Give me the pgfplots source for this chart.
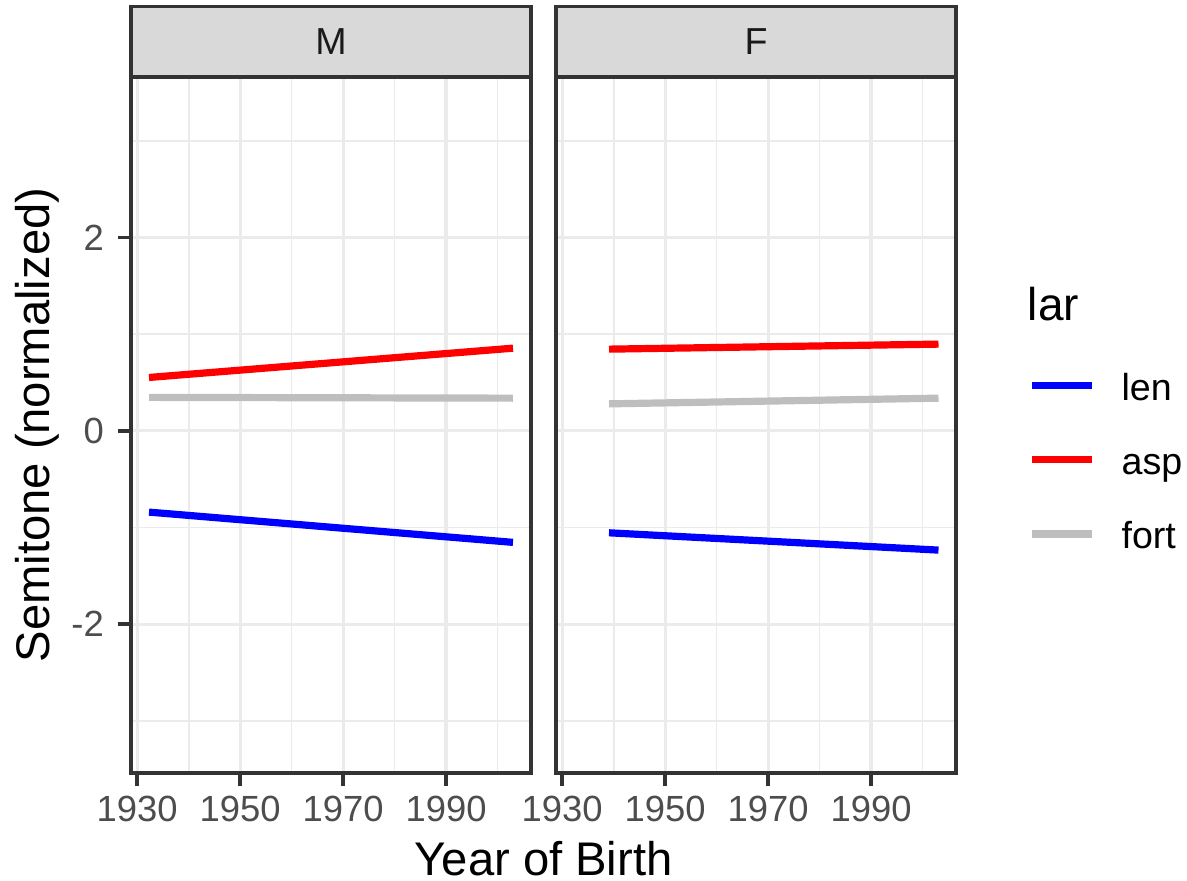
\documentclass[border=0pt]{standalone}
\usepackage{fontspec}
\setmainfont{Liberation Sans}
\usepackage{pgfplots}
\pgfplotsset{compat=1.18}
\definecolor{gridc}{HTML}{EBEBEB}
\definecolor{framec}{HTML}{333333}
\definecolor{stripc}{HTML}{D9D9D9}
\definecolor{tickc}{HTML}{4D4D4D}
\definecolor{fortc}{HTML}{BEBEBE}
\pgfplotsset{
  panel/.style={
    scale only axis, width=100pt, height=174pt,
    xmin=1928.8, xmax=2006.5, ymin=-3.54, ymax=3.66,
    xtick={1930,1950,1970,1990}, xticklabels={1930,1950,1970,1990},
    minor xtick={1940,1960,1980,2000},
    ytick={-2,0,2}, yticklabels={-2,0,2},
    minor ytick={-3,-1,1,3},
    grid=both,
    major grid style={gridc, line width=0.8pt},
    minor grid style={gridc, line width=0.42pt},
    axis line style={framec, line width=0.9pt},
    tick align=outside, tick pos=left,
    major tick length=3.25pt, minor tick length=0pt,
    tick style={framec, line width=0.9pt},
    ticklabel style={font=\fontsize{9.1}{11}\selectfont, text=tickc},
    xticklabel style={yshift=1pt},
  },
  dline/.style={line width=1.8pt, line cap=butt},
}
\begin{document}
\begin{tikzpicture}
\useasboundingbox (0,0) rectangle (296.75pt,220pt);
% strips
\fill[stripc] (32.75pt,200.75pt) rectangle (132.75pt,218.4pt);
\draw[framec, line width=0.9pt] (32.75pt,200.75pt) rectangle (132.75pt,218.4pt);
\fill[stripc] (139pt,200.75pt) rectangle (239pt,218.4pt);
\draw[framec, line width=0.9pt] (139pt,200.75pt) rectangle (239pt,218.4pt);
\node[anchor=base, inner sep=0pt, text={rgb,255:red,26;green,26;blue,26}, font=\fontsize{9.4}{11}\selectfont] at (82.75pt,206.25pt) {M};
\node[anchor=base, inner sep=0pt, text={rgb,255:red,26;green,26;blue,26}, font=\fontsize{9.4}{11}\selectfont] at (189pt,206.25pt) {F};

\begin{axis}[panel, at={(32.75pt,26.75pt)}, anchor=south west]
  \addplot[blue, dline] coordinates {(1932.3,-0.841) (2003.0,-1.154)};
  \addplot[red, dline] coordinates {(1932.3,0.552) (2003.0,0.855)};
  \addplot[fortc, dline] coordinates {(1932.3,0.346) (2003.0,0.338)};
\end{axis}

\begin{axis}[panel, at={(139pt,26.75pt)}, anchor=south west,
    yticklabels={}, ytick style={draw=none},
    legend style={at={(1.18,0.576)}, anchor=north west, draw=none, fill=none,
      inner sep=0pt, outer sep=0pt, row sep=9.6pt, column sep=0pt,
      font=\fontsize{9.4}{11}\selectfont,
      nodes={inner sep=0pt, outer sep=0pt, text height=7pt, text depth=2pt, font=\fontsize{9.4}{11}\selectfont, anchor=base west}},
    legend cell align=left,
    legend image code/.code={\draw[#1] (0pt,3.75pt) -- (15pt,3.75pt); \path[draw=none,fill=none] (0pt,0pt) -- (22.5pt,0pt);}]
  \addplot[blue, dline] coordinates {(1939.1,-1.055) (2003.1,-1.234)};
  \addplot[red, dline] coordinates {(1939.1,0.845) (2003.1,0.897)};
  \addplot[fortc, dline] coordinates {(1939.1,0.279) (2003.1,0.338)};
  \legend{len,asp,fort}
\end{axis}

\node[anchor=base west, inner sep=0pt, font=\fontsize{11.5}{13}\selectfont] at (256.75pt,140pt) {lar};
\node[anchor=base, inner sep=0pt, font=\fontsize{11.8}{13}\selectfont] at (135.9pt,1.25pt) {Year of Birth};
\node[anchor=base, rotate=90, inner sep=0pt, font=\fontsize{11.8}{13}\selectfont] at (12.5pt,113.75pt) {Semitone (normalized)};
\end{tikzpicture}
\end{document}
